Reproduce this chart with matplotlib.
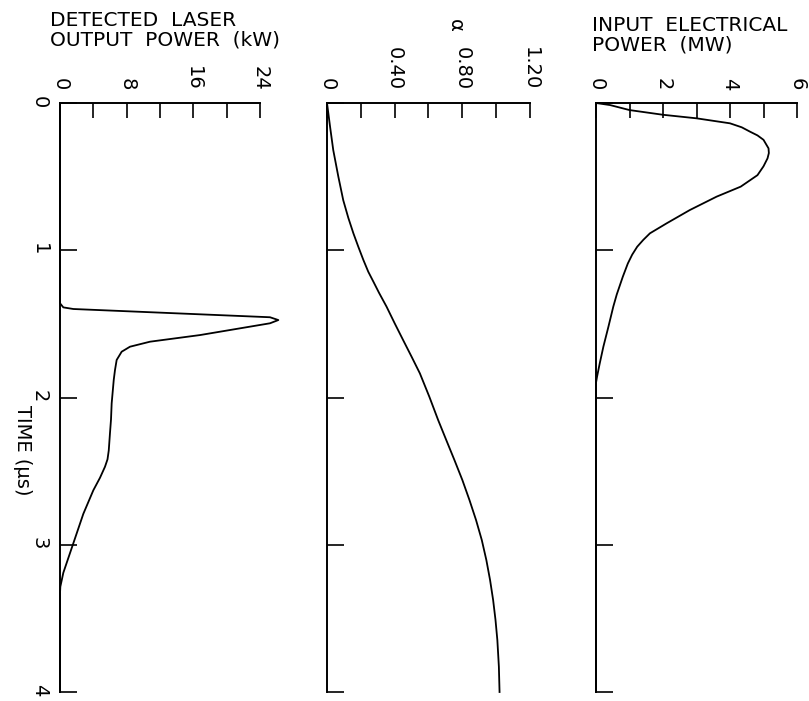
import matplotlib
matplotlib.use("Agg")
import matplotlib.pyplot as plt

plt.rcParams['font.family'] = ['DejaVu Sans']

# ---- data (time in microseconds) ----
laser_t = [0, 1.33, 1.36, 1.388, 1.399, 1.427, 1.455, 1.474, 1.496, 1.576, 1.621, 1.655,
           1.689, 1.745, 1.813, 1.88, 2.04, 2.15, 2.24, 2.36, 2.42, 2.47, 2.545, 2.63, 2.71,
           2.79, 2.89, 2.99, 3.09, 3.19, 3.285, 3.33, 4.0]
laser_kw = [0, 0, 0, 0.4, 1.6, 13.4, 25.2, 26.2, 25.2, 16.8, 10.8, 8.4,
            7.4, 6.8, 6.6, 6.45, 6.2, 6.12, 6.0, 5.85, 5.7, 5.4, 4.8, 4.0, 3.4,
            2.8, 2.2, 1.6, 1.0, 0.4, 0.04, 0, 0]

alpha_t = [0, 0.16, 0.32, 0.50, 0.66, 0.78, 0.885, 0.976, 1.066, 1.146, 1.213, 1.29,
           1.383, 1.496, 1.61, 1.723, 1.836, 1.995, 2.153, 2.289, 2.424, 2.56, 2.696,
           2.832, 2.968, 3.104, 3.24, 3.375, 3.51, 3.647, 3.828, 4.0]
alpha_v = [0, 0.018, 0.037, 0.067, 0.096, 0.126, 0.156, 0.185, 0.215, 0.244, 0.274, 0.308,
           0.352, 0.40, 0.45, 0.50, 0.549, 0.605, 0.657, 0.705, 0.753, 0.800, 0.842,
           0.881, 0.915, 0.942, 0.964, 0.982, 0.996, 1.007, 1.016, 1.02]

elec_t = [0, 0.014, 0.048, 0.08, 0.104, 0.138, 0.165, 0.195, 0.22, 0.25, 0.308, 0.34,
          0.376, 0.43, 0.49, 0.568, 0.636, 0.727, 0.817, 0.885, 0.93, 0.976, 1.03, 1.09,
          1.18, 1.30, 1.383, 1.52, 1.655, 1.77, 1.86, 1.90, 4.0]
elec_mw = [0, 0.42, 1.0, 2.0, 3.0, 4.0, 4.35, 4.6, 4.82, 5.0, 5.15, 5.16,
           5.12, 5.0, 4.82, 4.32, 3.6, 2.8, 2.11, 1.61, 1.41, 1.23, 1.08, 0.95,
           0.80, 0.62, 0.516, 0.37, 0.22, 0.11, 0.03, 0, 0]

time_ticks = [0, 1, 2, 3, 4]
time_labels = ['0', '1', '2', '3', '4']

laser_ticks = [0, 4, 8, 12, 16, 20, 24]
laser_labels = ['0', '', '8', '', '16', '', '24']
alpha_ticks = [0, 0.2, 0.4, 0.6, 0.8, 1.0, 1.2]
alpha_labels = ['0', '', '0.40', '', '0.80', '', '1.20']
elec_ticks = [0, 1, 2, 3, 4, 5, 6]
elec_labels = ['0', '', '2', '', '4', '', '6']

W, H = 809, 701
fig = plt.figure(figsize=(W / 100, H / 100), dpi=100)

def px_axes(x0, x1, y0, y1):
    return fig.add_axes([x0 / W, 1 - y1 / H, (x1 - x0) / W, (y1 - y0) / H])

FS = 14
TFS = 14.5
panels = [
    (60, 260, laser_t, laser_kw, (0, 24), laser_ticks, laser_labels, True),
    (327, 530, alpha_t, alpha_v, (0, 1.2), alpha_ticks, alpha_labels, False),
    (596, 797, elec_t, elec_mw, (0, 6), elec_ticks, elec_labels, False),
]
for x0, x1, t, v, xl, xt, xlab, show_time in panels:
    ax = px_axes(x0, x1, 103, 692)
    ax.plot(v, t, color='black', lw=1.3, clip_on=False, solid_joinstyle='round')
    ax.set_xlim(*xl)
    ax.set_ylim(4, 0)
    for s in ('right', 'bottom'):
        ax.spines[s].set_visible(False)
    for s in ('left', 'top'):
        ax.spines[s].set_linewidth(1.4)
    ax.xaxis.tick_top()
    ax.set_xticks(xt)
    ax.set_xticklabels(xlab)
    ax.tick_params(axis='x', direction='in', length=11, width=1.2, top=True,
                   bottom=False, labeltop=True, labelbottom=False, pad=9,
                   labelrotation=-90, labelsize=FS)
    ax.set_yticks(time_ticks)
    if show_time:
        ax.set_yticklabels(time_labels)
    else:
        ax.set_yticklabels([''] * len(time_ticks))
    ax.tick_params(axis='y', direction='in', length=12, width=1.2, left=True,
                   right=False, pad=8, labelrotation=-90, labelsize=FS)

def ftext(x, y, s, **kw):
    fig.text(x / W, 1 - y / H, s, **kw)

ftext(50, 11, 'DETECTED  LASER\nOUTPUT  POWER  (kW)', ha='left', va='top',
      fontsize=TFS, linespacing=1.05)
ftext(592, 16, 'INPUT  ELECTRICAL\nPOWER  (MW)', ha='left', va='top',
      fontsize=TFS, linespacing=1.05)
ftext(455, 25, 'α', ha='center', va='center', rotation=-90, fontsize=FS)
ftext(22, 450, 'TIME (μs)', ha='center', va='center', rotation=-90, fontsize=FS)

fig.savefig('out.png', dpi=100)
